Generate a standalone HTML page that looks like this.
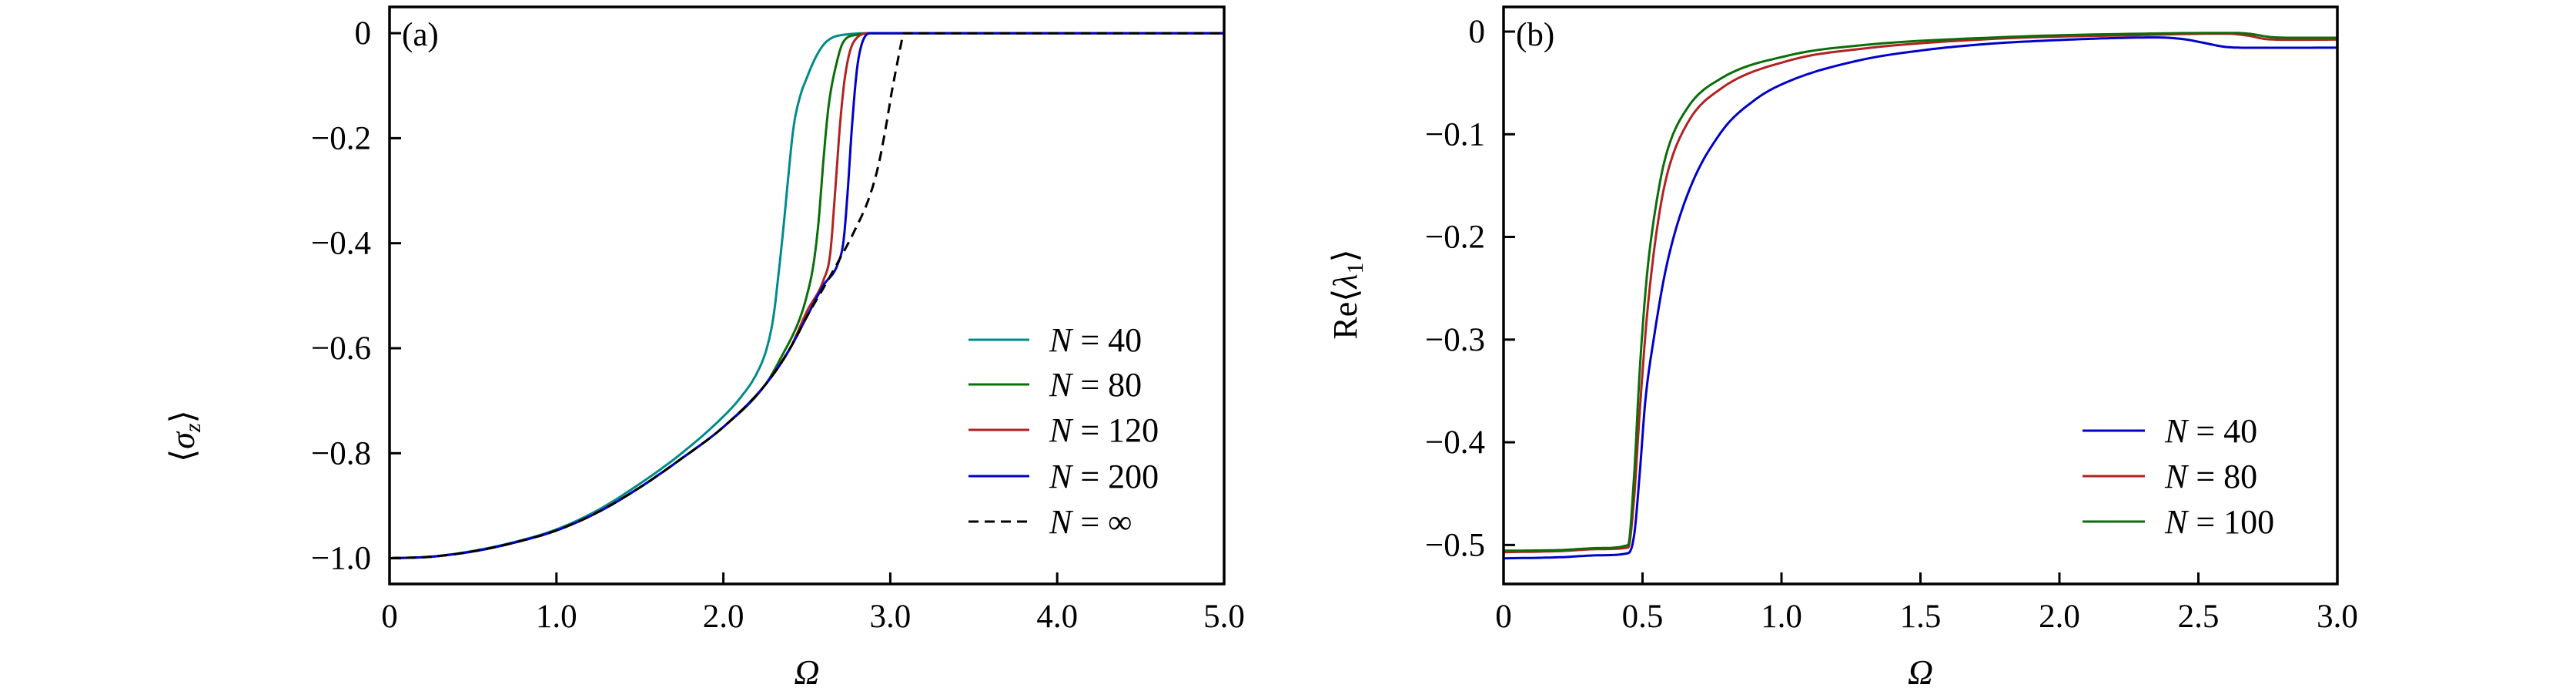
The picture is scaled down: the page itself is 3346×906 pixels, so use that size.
<!DOCTYPE html>
<html><head><meta charset="utf-8"><style>
html,body{margin:0;padding:0;background:#fff;}
svg{display:block;font-family:"Liberation Serif","DejaVu Serif",serif;}
</style></head><body>
<svg id="s" width="3346" height="906" viewBox="0 0 3346 906" xmlns="http://www.w3.org/2000/svg">
<rect width="3346" height="906" fill="#fff"/>
<g id="g"></g>
</svg>
<script>
const NS="http://www.w3.org/2000/svg";
const g=document.getElementById('g');
function el(t,a,txt){const e=document.createElementNS(NS,t);for(const k in a)e.setAttribute(k,a[k]);if(txt!==undefined)e.textContent=txt;g.appendChild(e);return e;}
// monotone cubic (Fritsch-Carlson) interpolation, returns dense samples
function mono(P){
  const n=P.length,xs=P.map(p=>p[0]),ys=P.map(p=>p[1]);
  const h=[],d=[];for(let i=0;i<n-1;i++){h.push(xs[i+1]-xs[i]);d.push((ys[i+1]-ys[i])/h[i]);}
  const m=new Array(n);m[0]=d[0];m[n-1]=d[n-2];
  for(let i=1;i<n-1;i++){m[i]=(d[i-1]*d[i]<=0)?0:(d[i-1]+d[i])/2;}
  for(let i=0;i<n-1;i++){if(d[i]===0){m[i]=0;m[i+1]=0;continue;}
    const a=m[i]/d[i],b=m[i+1]/d[i],s=a*a+b*b;if(s>9){const t=3/Math.sqrt(s);m[i]=t*a*d[i];m[i+1]=t*b*d[i];}}
  const out=[];
  for(let i=0;i<n-1;i++){const N=12;for(let k=0;k<N;k++){const t=k/N,t2=t*t,t3=t2*t;
    const y=(2*t3-3*t2+1)*ys[i]+(t3-2*t2+t)*h[i]*m[i]+(-2*t3+3*t2)*ys[i+1]+(t3-t2)*h[i]*m[i+1];
    out.push([xs[i]+t*h[i],y]);}}
  out.push(P[n-1]);return out;
}
function panel(P){
  const X=v=>P.x0+(v-P.xmin)/(P.xmax-P.xmin)*(P.x1-P.x0);
  const Y=v=>P.y1-(v-P.ymin)/(P.ymax-P.ymin)*(P.y1-P.y0);
  P.series.forEach(s=>{
    const pts=mono(s.pts);
    const d=pts.map((p,i)=>(i?'L':'M')+X(p[0]).toFixed(1)+' '+Y(p[1]).toFixed(1)).join(' ');
    const a={d:d,fill:'none',stroke:s.c,'stroke-width':3,'stroke-linejoin':'round'};
    if(s.dash)a['stroke-dasharray']='13 8';
    el('path',a);
  });
  P.xt.forEach(t=>{const x=X(t[0]);el('line',{x1:x,x2:x,y1:P.y1,y2:P.y1-15,stroke:'#000','stroke-width':3});
    el('text',{x:x,y:P.y1+56,'font-size':43,'text-anchor':'middle'},t[1]);});
  P.yt.forEach(t=>{const y=Y(t[0]);el('line',{x1:P.x0,x2:P.x0+15,y1:y,y2:y,stroke:'#000','stroke-width':3});
    el('text',{x:P.x0-24,y:y+14,'font-size':43,'text-anchor':'end'},t[1]);});
  el('rect',{x:P.x0,y:P.y0,width:P.x1-P.x0,height:P.y1-P.y0,fill:'none',stroke:'#000','stroke-width':3.5});
  el('text',{x:P.x0+16,y:P.y0+50,'font-size':43},P.tag);
  el('text',{x:(P.x0+P.x1)/2,y:888,'font-size':46,'font-style':'italic','text-anchor':'middle'},'Ω');
  const yl=el('text',{x:0,y:0,'font-size':44,'text-anchor':'middle',transform:`translate(${P.ylx},${P.yly}) rotate(-90)`});
  yl.innerHTML=P.ylab;
  P.leg.forEach((L,i)=>{const y=P.legy[i];
    const a={x1:P.lx0,x2:P.lx1,y1:y,y2:y,stroke:L.c,'stroke-width':3};
    if(L.dash)a['stroke-dasharray']='13 8';
    el('line',a);
    const t=el('text',{x:P.lx1+26,y:y+15,'font-size':44});
    t.innerHTML='<tspan font-style="italic">N</tspan> = '+L.t;
  });
}
const ref=[[0,-1],[0.25,-0.997],[0.5,-0.987],[0.75,-0.97],[1,-0.947],[1.25,-0.912],[1.5,-0.865],[1.75,-0.81],[2,-0.75],[2.25,-0.67],[2.4,-0.6],[2.5,-0.54],[2.6,-0.485],[2.685,-0.437],[2.78,-0.38],[2.877,-0.31],[2.93,-0.25],[2.97,-0.185],[3.01,-0.11],[3.04,-0.06],[3.065,-0.02],[3.08,0]];
function upto(x){return ref.filter(p=>p[0]<=x+1e-9);}
const inf=ref.concat([[3.3,0],[5,0]]);
const n40=[[0,-1],[0.25,-0.997],[0.5,-0.986],[0.75,-0.969],[1,-0.945],[1.25,-0.908],[1.5,-0.858],[1.75,-0.8],[2,-0.73],[2.1,-0.695],[2.2,-0.648],[2.26,-0.6],[2.3,-0.54],[2.33,-0.46],[2.36,-0.37],[2.39,-0.27],[2.42,-0.18],[2.46,-0.12],[2.5,-0.085],[2.55,-0.048],[2.6,-0.022],[2.65,-0.009],[2.75,-0.002],[2.9,0],[3.5,0],[5,0]];
const n80=upto(2.25).concat([[2.35,-0.615],[2.45,-0.55],[2.5,-0.5],[2.54,-0.44],[2.57,-0.36],[2.6,-0.24],[2.63,-0.14],[2.68,-0.055],[2.72,-0.016],[2.8,-0.003],[2.9,0],[3.5,0],[5,0]]);
const n120=upto(2.4).concat([[2.5,-0.53],[2.6,-0.47],[2.64,-0.42],[2.67,-0.3],[2.7,-0.17],[2.73,-0.08],[2.78,-0.017],[2.88,0],[3.5,0],[5,0]]);
const n200=upto(2.5).concat([[2.6,-0.48],[2.685,-0.44],[2.72,-0.395],[2.745,-0.3],[2.77,-0.18],[2.8,-0.07],[2.83,-0.02],[2.88,0],[3.5,0],[5,0]]);
panel({x0:506,x1:1590,y0:9,y1:758,xmin:0,xmax:5,ymin:-1.049,ymax:0.05,
 series:[{c:'#008b8b',pts:n40},{c:'#0a6e0a',pts:n80},{c:'#b22222',pts:n120},{c:'#0000c8',pts:n200},{c:'#000',pts:inf,dash:1}],
 xt:[[0,'0'],[1,'1.0'],[2,'2.0'],[3,'3.0'],[4,'4.0'],[5,'5.0']],
 yt:[[0,'0'],[-0.2,'−0.2'],[-0.4,'−0.4'],[-0.6,'−0.6'],[-0.8,'−0.8'],[-1,'−1.0']],
 tag:'(a)',ylx:252,yly:566,ylab:'⟨<tspan font-style="italic">σ</tspan><tspan font-style="italic" font-size="30" dy="8">z</tspan><tspan dy="-8">⟩</tspan>',
 lx0:1258,lx1:1337,legy:[441,499,558,618,677],
 leg:[{c:'#008b8b',t:'40'},{c:'#0a6e0a',t:'80'},{c:'#b22222',t:'120'},{c:'#0000c8',t:'200'},{c:'#000',t:'∞',dash:1}]});
const b40=[[0,-0.513],[0.2,-0.512],[0.35,-0.51],[0.448,-0.508],[0.47,-0.49],[0.49,-0.43],[0.51,-0.36],[0.54,-0.3],[0.585,-0.23],[0.66,-0.16],[0.78,-0.099],[0.907,-0.066],[1.03,-0.048],[1.28,-0.028],[1.53,-0.0175],[1.77,-0.0115],[2.02,-0.008],[2.2,-0.0063],[2.35,-0.0057],[2.45,-0.0075],[2.52,-0.011],[2.6,-0.015],[2.7,-0.0158],[3,-0.0157]];
const b80=[[0,-0.507],[0.2,-0.506],[0.35,-0.504],[0.448,-0.5026],[0.468,-0.46],[0.49,-0.37],[0.515,-0.28],[0.548,-0.2],[0.585,-0.143],[0.66,-0.09],[0.78,-0.056],[1.03,-0.028],[1.28,-0.017],[1.77,-0.007],[2.27,-0.0035],[2.6,-0.002],[2.68,-0.004],[2.75,-0.0075],[2.85,-0.008],[3,-0.0078]];
const b100=[[0,-0.5056],[0.2,-0.505],[0.35,-0.503],[0.448,-0.5],[0.468,-0.44],[0.49,-0.33],[0.515,-0.24],[0.548,-0.17],[0.585,-0.12],[0.66,-0.075],[0.78,-0.046],[1.03,-0.023],[1.28,-0.0135],[1.77,-0.0057],[2.3,-0.002],[2.62,-0.0013],[2.68,-0.002],[2.75,-0.005],[2.82,-0.006],[3,-0.006]];
panel({x0:1953,x1:3036,y0:9,y1:758,xmin:0,xmax:3,ymin:-0.538,ymax:0.024,
 series:[{c:'#0000c8',pts:b40},{c:'#b22222',pts:b80},{c:'#0a6e0a',pts:b100}],
 xt:[[0,'0'],[0.5,'0.5'],[1,'1.0'],[1.5,'1.5'],[2,'2.0'],[2.5,'2.5'],[3,'3.0']],
 yt:[[0,'0'],[-0.1,'−0.1'],[-0.2,'−0.2'],[-0.3,'−0.3'],[-0.4,'−0.4'],[-0.5,'−0.5']],
 tag:'(b)',ylx:1762,yly:382,ylab:'Re⟨<tspan font-style="italic">λ</tspan><tspan font-size="30" dy="8">1</tspan><tspan dy="-8">⟩</tspan>',
 lx0:2705,lx1:2786,legy:[559,618,677],
 leg:[{c:'#0000c8',t:'40'},{c:'#b22222',t:'80'},{c:'#0a6e0a',t:'100'}]});
</script>
</body></html>
